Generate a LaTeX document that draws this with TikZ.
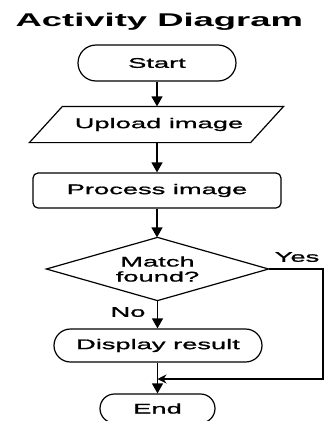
\documentclass[tikz,border=0pt]{standalone}
\usepackage{fontspec}
\setmainfont[FakeStretch=1.95,FakeBold=1.2]{Liberation Sans}
\newfontfamily\titlefont[FakeStretch=1.98]{Liberation Sans}
\usetikzlibrary{shapes.misc,arrows.meta}
\begin{document}
\begin{tikzpicture}[x=1pt,y=-1pt,
  line width=1.2pt,
  txt/.style={font=\fontsize{14pt}{15pt}\selectfont, inner sep=0pt, align=center},
  term/.style={txt, draw, rounded rectangle, rounded rectangle arc length=180},
  boxed/.style={txt, draw, rounded corners=5pt},
  hidden/.style={txt, draw=none},
  flow/.style={-{Triangle[length=10pt,width=11pt]}},
  back/.style={-{Stealth[length=9pt,width=9pt]}},
  lbl/.style={font=\fontsize{14pt}{15pt}\selectfont, inner sep=0pt}
]
\useasboundingbox[fill=white] (0,0) rectangle (334,421);

\node[anchor=base west, inner sep=0pt, font=\titlefont\fontsize{18.4pt}{20pt}\selectfont\bfseries] (title) at (15,26) {Activity Diagram};

\node[term, minimum width=158pt, minimum height=36pt] (start) at (157,63) {Start};

\node[hidden, minimum width=253pt, minimum height=35pt] (upload) at (156.5,124.5) {\hspace*{5pt}Upload image};
\draw ([xshift=33pt]upload.north west) -- (upload.north east) -- ([xshift=-33pt]upload.south east) -- (upload.south west) -- cycle;

\node[boxed, minimum width=248pt, minimum height=35pt] (process) at (157,190.5) {Process image};

\node[hidden, minimum width=221pt, minimum height=62pt] (dec) at (157.5,269) {Match\\[0pt]found?};
\draw (dec.north) -- (dec.east) -- (dec.south) -- (dec.west) -- cycle;

\node[term, minimum width=208pt, minimum height=33pt] (display) at (158,345.5) {Display result};

\node[term, minimum width=115pt, minimum height=29pt] (end) at (157.5,408.5) {End};

\node[lbl] (yes) at (297,257) {Yes};
\node[lbl] (no) at (128,312) {No};

\coordinate (yr) at (323,269);
\coordinate (yb) at (323,379);
\coordinate (mj) at (157.5,379);

\draw[flow] (start.south) -- (upload.north -| start.south);
\draw[flow] (upload.south -| start.south) -- (process.north -| start.south);
\draw[flow] (process.south -| start.south) -- (dec.north -| start.south);
\draw[flow] (dec.south) -- (display.north -| dec.south);
\draw[flow] (display.south -| end.north) -- (end.north);
\draw[back] (dec.east) -- (yr) -- (yb) -- (mj);
\end{tikzpicture}
\end{document}
